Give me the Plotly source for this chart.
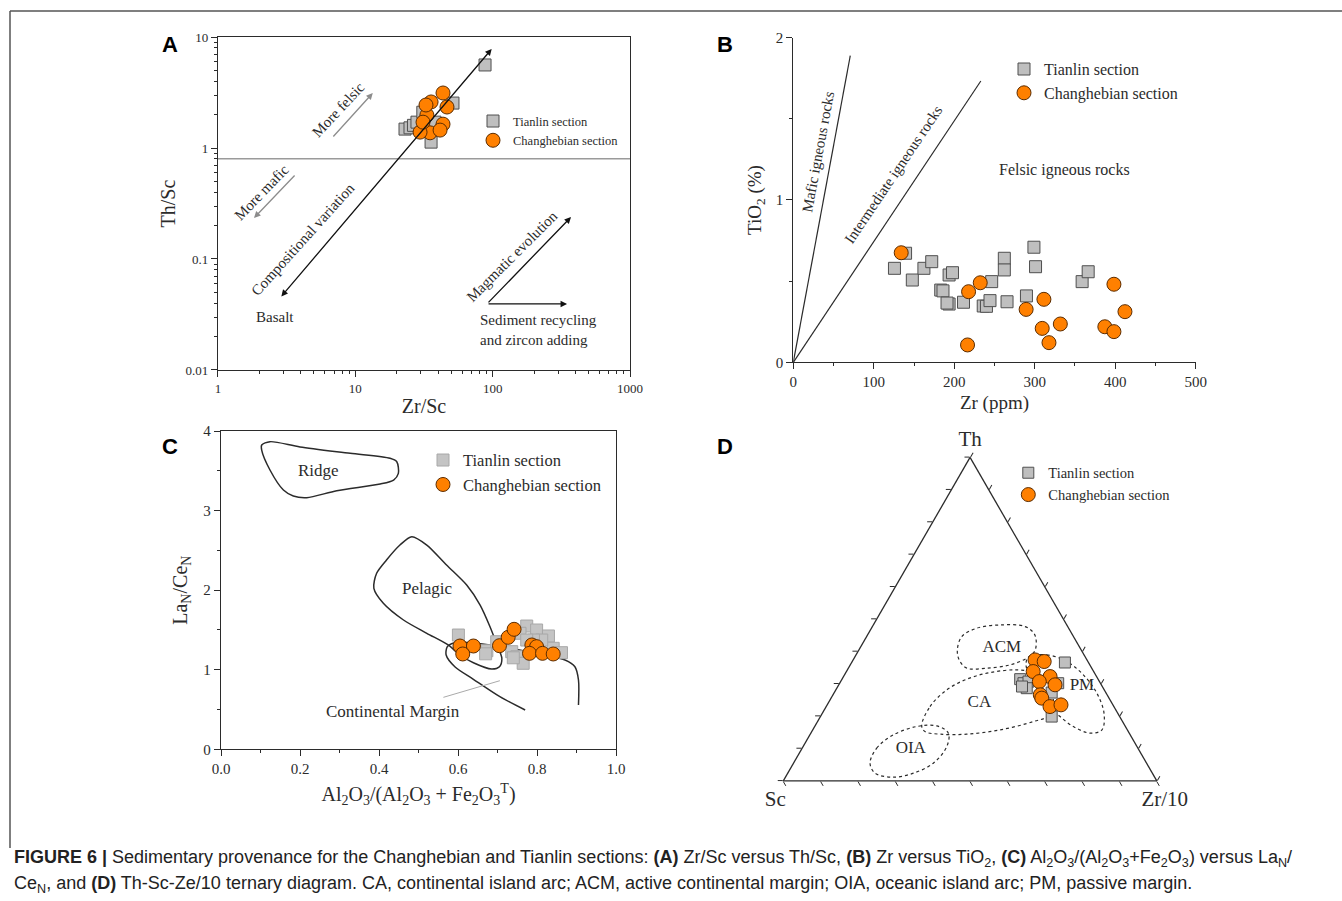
import math
import plotly.graph_objects as go

SERIF = "Liberation Serif"
SANS = "Liberation Sans"
INK = "#2b2b2b"
GREY_FILL = "#bfbfbf"
GREY_EDGE = "#4f4f4f"
ORANGE = "#ff8000"
ORANGE_EDGE = "#5c2c00"

# ---------------- Panel A: Zr/Sc vs Th/Sc ----------------
a_tianlin_zrsc = [23.0, 25.0, 26.5, 28.1, 31.0, 33.8, 35.6, 38.0, 51.4, 88.0]
a_tianlin_thsc = [1.48, 1.52, 1.60, 1.71, 2.10, 1.52, 1.13, 1.71, 2.54, 5.60]
a_chang_zrsc = [35.6, 43.5, 46.5, 33.2, 32.7, 43.5, 35.0, 29.6, 41.4, 31.1]
a_chang_thsc = [2.60, 3.13, 2.34, 1.98, 2.44, 1.64, 1.37, 1.39, 1.45, 1.71]
a_ref_zrsc = [1, 1000]
a_ref_thsc = [0.8, 0.8]

# ---------------- Panel B: Zr vs TiO2 ----------------
b_tianlin_zr = [139.5, 125.7, 147.9, 162.3, 172.0, 183.2, 186.0, 193.6, 197.8, 193.6,
                191.0, 211.5, 236.0, 240.0, 244.4, 246.5, 262.2, 262.2, 265.6, 289.7,
                299.0, 301.0, 358.9, 366.4]
b_tianlin_ti = [0.672, 0.579, 0.507, 0.579, 0.620, 0.445, 0.440, 0.538, 0.552, 0.359,
                0.365, 0.370, 0.347, 0.345, 0.380, 0.497, 0.641, 0.569, 0.373, 0.409,
                0.709, 0.589, 0.497, 0.558]
b_chang_zr = [134.1, 217.8, 232.3, 216.5, 289.3, 311.4, 309.3, 317.7, 331.8, 387.1,
              398.4, 398.4, 412.1]
b_chang_ti = [0.675, 0.435, 0.490, 0.107, 0.326, 0.388, 0.209, 0.121, 0.236, 0.219,
              0.189, 0.481, 0.312]
b_mafic_zr = [0, 70.8]
b_mafic_ti = [0, 1.889]
b_inter_zr = [0, 233.0]
b_inter_ti = [0, 1.733]

# ---------------- Panel C: Al2O3/(Al2O3+Fe2O3T) vs LaN/CeN ----------------
c_tianlin_al = [0.601, 0.673, 0.698, 0.774, 0.799, 0.829, 0.757, 0.736, 0.749, 0.765,
                0.841, 0.862, 0.812, 0.791, 0.774, 0.670, 0.740]
c_tianlin_la = [1.436, 1.239, 1.352, 1.549, 1.499, 1.424, 1.458, 1.227, 1.164, 1.081,
                1.269, 1.214, 1.373, 1.373, 1.373, 1.200, 1.150]
c_chang_al = [0.605, 0.639, 0.612, 0.705, 0.727, 0.742, 0.787, 0.799, 0.781, 0.814, 0.841]
c_chang_la = [1.298, 1.298, 1.198, 1.302, 1.407, 1.508, 1.311, 1.290, 1.206, 1.206, 1.198]

ridge_al = [0.293, 0.217, 0.183, 0.158, 0.124, 0.103, 0.103, 0.124, 0.200, 0.327,
            0.428, 0.445, 0.449, 0.437, 0.403, 0.293]
ridge_la = [3.250, 3.162, 3.183, 3.258, 3.510, 3.760, 3.824, 3.866, 3.800, 3.720,
            3.657, 3.614, 3.468, 3.384, 3.334, 3.250]
pelagic_al = [0.605, 0.575, 0.521, 0.462, 0.411, 0.387, 0.394, 0.419, 0.453, 0.483,
              0.521, 0.571, 0.622, 0.656, 0.681, 0.698, 0.711, 0.705, 0.685, 0.639, 0.605]
pelagic_la = [1.185, 1.311, 1.458, 1.625, 1.835, 2.023, 2.212, 2.379, 2.567, 2.672,
              2.567, 2.316, 2.065, 1.813, 1.541, 1.323, 1.143, 1.038, 1.009, 1.088, 1.185]
margin_al = [0.770, 0.706, 0.639, 0.592, 0.570, 0.573, 0.592, 0.647, 0.732, 0.816,
             0.871, 0.896, 0.905, 0.905]
margin_la = [0.494, 0.661, 0.880, 1.038, 1.185, 1.290, 1.340, 1.332, 1.269, 1.185,
             1.122, 1.038, 0.871, 0.557]
margin_leader_al = [0.563, 0.706]
margin_leader_la = [0.653, 0.862]

# ---------------- Panel D: Th - Sc - Zr/10 ternary ----------------
d_tianlin_th = [0.366, 0.3145, 0.302, 0.307, 0.2866, 0.302, 0.273, 0.1988, 0.2916]
d_tianlin_sc = [0.063, 0.2085, 0.206, 0.190, 0.205, 0.113, 0.145, 0.182, 0.215]
d_tianlin_zr = [0.571, 0.477, 0.492, 0.503, 0.5086, 0.585, 0.582, 0.619, 0.493]
d_chang_th = [0.374, 0.369, 0.338, 0.3225, 0.307, 0.297, 0.266, 0.2557, 0.2297, 0.235]
d_chang_sc = [0.139, 0.117, 0.162, 0.1245, 0.161, 0.124, 0.179, 0.180, 0.171, 0.139]
d_chang_zr = [0.487, 0.514, 0.500, 0.553, 0.532, 0.579, 0.555, 0.564, 0.599, 0.626]

acm_th = [0.405, 0.446, 0.472, 0.482, 0.477, 0.451, 0.405, 0.3825, 0.3587, 0.3485, 0.3485, 0.374]
acm_sc = [0.3315, 0.299, 0.246, 0.179, 0.114, 0.101, 0.123, 0.1525, 0.213, 0.2815, 0.3345, 0.342]
acm_zr = [0.2635, 0.2547, 0.282, 0.339, 0.409, 0.448, 0.472, 0.465, 0.428, 0.370, 0.317, 0.284]
pm_th = [0.3825, 0.3896, 0.369, 0.3278, 0.2712, 0.2093, 0.1577, 0.1475, 0.168, 0.1988,
         0.2297, 0.2712, 0.3225, 0.3587]
pm_sc = [0.1525, 0.0994, 0.0565, 0.0327, 0.025, 0.0367, 0.068, 0.1045, 0.1395, 0.1595,
         0.171, 0.177, 0.178, 0.1708]
pm_zr = [0.465, 0.511, 0.5745, 0.6395, 0.7038, 0.754, 0.774, 0.748, 0.6925, 0.6417,
         0.5994, 0.552, 0.4995, 0.4705]
ca_th = [0.170, 0.2297, 0.2814, 0.3145, 0.3349, 0.3432, 0.333, 0.302, 0.2505, 0.2041,
         0.1834, 0.1577, 0.1444, 0.1444, 0.1524]
ca_sc = [0.5445, 0.4923, 0.4216, 0.3515, 0.279, 0.2034, 0.155, 0.1393, 0.1518, 0.1837,
         0.2386, 0.3407, 0.4367, 0.5082, 0.5444]
ca_zr = [0.2855, 0.278, 0.297, 0.334, 0.386, 0.4534, 0.512, 0.5587, 0.5977, 0.6122,
         0.578, 0.5016, 0.4189, 0.3474, 0.3032]
oia_th = [0.0547, 0.1011, 0.1422, 0.168, 0.170, 0.1475, 0.1061, 0.0547, 0.0238, 0.0114, 0.0238]
oia_sc = [0.7404, 0.6994, 0.6344, 0.5588, 0.5043, 0.4843, 0.5093, 0.5709, 0.6398, 0.6996, 0.7424]
oia_zr = [0.2049, 0.1995, 0.2234, 0.2732, 0.3257, 0.3682, 0.3846, 0.3744, 0.3364, 0.289, 0.2338]

field_names = ["ACM", "PM", "CA", "OIA"]
field_label_th = [0.412, 0.2947, 0.242, 0.099]
field_label_sc = [0.209, 0.053, 0.354, 0.609]
field_label_zr = [0.379, 0.652, 0.404, 0.2917]


def closed(seq):
    return list(seq) + [seq[0]]


def lg(v):
    return math.log10(v)


square_style = dict(symbol="square", size=12, color=GREY_FILL, line=dict(color=GREY_EDGE, width=1))
circle_style = dict(symbol="circle", size=14, color=ORANGE, line=dict(color=ORANGE_EDGE, width=1))

fig = go.Figure()

# ---- A ----
fig.add_trace(go.Scatter(x=a_ref_zrsc, y=a_ref_thsc, mode="lines", xaxis="x", yaxis="y",
                         line=dict(color="#9a9a9a", width=1.5), showlegend=False))
fig.add_trace(go.Scatter(x=a_tianlin_zrsc, y=a_tianlin_thsc, mode="markers", xaxis="x", yaxis="y",
                         name="Tianlin section", marker=square_style, legend="legend"))
fig.add_trace(go.Scatter(x=a_chang_zrsc, y=a_chang_thsc, mode="markers", xaxis="x", yaxis="y",
                         name="Changhebian section", marker=circle_style, legend="legend"))

# ---- B ----
for xs, ys in ((b_mafic_zr, b_mafic_ti), (b_inter_zr, b_inter_ti)):
    fig.add_trace(go.Scatter(x=xs, y=ys, mode="lines", xaxis="x2", yaxis="y2",
                             line=dict(color=INK, width=1.2), showlegend=False))
fig.add_trace(go.Scatter(x=b_tianlin_zr, y=b_tianlin_ti, mode="markers", xaxis="x2", yaxis="y2",
                         name="Tianlin section", marker=dict(square_style, size=12), legend="legend2"))
fig.add_trace(go.Scatter(x=b_chang_zr, y=b_chang_ti, mode="markers", xaxis="x2", yaxis="y2",
                         name="Changhebian section", marker=dict(circle_style, size=14), legend="legend2"))

# ---- C ----
for xs, ys in ((ridge_al, ridge_la), (pelagic_al, pelagic_la), (margin_al, margin_la)):
    fig.add_trace(go.Scatter(x=xs, y=ys, mode="lines", xaxis="x3", yaxis="y3",
                             line=dict(color=INK, width=1.5, shape="spline", smoothing=0.8),
                             showlegend=False))
fig.add_trace(go.Scatter(x=margin_leader_al, y=margin_leader_la, mode="lines", xaxis="x3", yaxis="y3",
                         line=dict(color="#aaaaaa", width=1), showlegend=False))
fig.add_trace(go.Scatter(x=c_tianlin_al, y=c_tianlin_la, mode="markers", xaxis="x3", yaxis="y3",
                         name="Tianlin section",
                         marker=dict(symbol="square", size=12, color="#c4c4c4",
                                     line=dict(color="#a8a8a8", width=1)),
                         legend="legend3"))
fig.add_trace(go.Scatter(x=c_chang_al, y=c_chang_la, mode="markers", xaxis="x3", yaxis="y3",
                         name="Changhebian section", marker=dict(circle_style, size=14), legend="legend3"))

# ---- D ----
for th, sc, zr in ((acm_th, acm_sc, acm_zr), (pm_th, pm_sc, pm_zr),
                   (ca_th, ca_sc, ca_zr), (oia_th, oia_sc, oia_zr)):
    fig.add_trace(go.Scatterternary(a=closed(th), b=closed(sc), c=closed(zr), mode="lines",
                                    line=dict(color=INK, width=1.2, dash="dot", shape="spline",
                                              smoothing=1),
                                    showlegend=False))
fig.add_trace(go.Scatterternary(a=field_label_th, b=field_label_sc, c=field_label_zr, mode="text",
                                text=field_names, textfont=dict(family=SERIF, size=17, color=INK),
                                showlegend=False))
fig.add_trace(go.Scatterternary(a=d_tianlin_th, b=d_tianlin_sc, c=d_tianlin_zr, mode="markers",
                                name="Tianlin section", marker=dict(square_style, size=11),
                                legend="legend4"))
fig.add_trace(go.Scatterternary(a=d_chang_th, b=d_chang_sc, c=d_chang_zr, mode="markers",
                                name="Changhebian section", marker=dict(circle_style, size=14),
                                legend="legend4"))


def axis(**kw):
    base = dict(showline=True, linecolor=INK, linewidth=1.3, ticks="outside", tickcolor=INK,
                ticklen=6, tickwidth=1.2, showgrid=False, zeroline=False, automargin=False,
                tickfont=dict(family=SERIF, size=15, color=INK))
    base.update(kw)
    return base


minor_log = dict(ticks="outside", ticklen=3, tickcolor=INK, showgrid=False)
x_minor = [k * 10 ** d for d in range(0, 3) for k in range(2, 10)]
y_minor = [k * 10.0 ** d for d in range(-2, 1) for k in range(2, 10)]


def legend_box(x, y, size):
    return dict(x=x, y=y, xanchor="left", yanchor="top", bgcolor="rgba(0,0,0,0)",
                font=dict(family=SERIF, size=size, color=INK), tracegroupgap=0)


ann = []
txt = dict(family=SERIF, color=INK)


def note(text, x, y, ref, size=15, angle=0, **kw):
    d = dict(text=text, x=x, y=y, xref=ref[0], yref=ref[1], showarrow=False,
             textangle=angle, font=dict(txt, size=size))
    d.update(kw)
    ann.append(d)


def arrow(x0, y0, x1, y1, ref, color, both=False):
    ann.append(dict(text="", x=x1, y=y1, ax=x0, ay=y0, xref=ref[0], yref=ref[1],
                    axref=ref[0], ayref=ref[1], showarrow=True, arrowhead=2, arrowsize=1,
                    arrowwidth=1.3, arrowcolor=color, font=dict(txt, size=12),
                    arrowside="end+start" if both else "end", standoff=0, startstandoff=0))


A = ("x", "y")
note("More felsic", lg(7.48), lg(2.2), A, size=15, angle=-47)
arrow(lg(6.76), lg(1.23), lg(13.4), lg(3.13), A, "#8c8c8c")
note("More mafic", lg(2.09), lg(0.402), A, size=15, angle=-46)
arrow(lg(3.70), lg(0.583), lg(1.83), lg(0.234), A, "#8c8c8c")
arrow(lg(2.83), lg(0.0446), lg(98.4), lg(7.8), A, "#111111", both=True)
note("Compositional variation", lg(4.18), lg(0.151), A, size=15, angle=-48)
note("Basalt", lg(2.60), lg(0.0302), A, size=15)
note("Magmatic evolution", lg(139), lg(0.107), A, size=15, angle=-45)
arrow(lg(91), lg(0.0394), lg(372), lg(0.239), A, "#111111")
arrow(lg(91), lg(0.0394), lg(348), lg(0.0394), A, "#111111")
note("Sediment recycling<br>and zircon adding", lg(78.6), lg(0.0227), A, size=15,
     xanchor="left", align="left")

B = ("x2", "y2")
note("Mafic igneous rocks", 30.8, 1.296, B, size=15, angle=-79.5)
note("Intermediate igneous rocks", 124.9, 1.16, B, size=15, angle=-56)
note("Felsic igneous rocks", 336.6, 1.184, B, size=16)

C = ("x3", "y3")
note("Ridge", 0.246, 3.50, C, size=17)
note("Pelagic", 0.521, 2.023, C, size=17)
note("Continental Margin", 0.436, 0.473, C, size=17)

# panel letters
for letter, px, py in (("A", 170, 44), ("B", 725, 44), ("C", 170, 447), ("D", 725, 447)):
    ann.append(dict(text="<b>%s</b>" % letter, x=px / 1342, y=1 - py / 901, xref="paper",
                    yref="paper", showarrow=False, xanchor="center", yanchor="middle",
                    font=dict(family=SANS, size=22, color="#000")))

caption1 = ("<b>FIGURE 6 |</b> Sedimentary provenance for the Changhebian and Tianlin sections: "
            "<b>(A)</b> Zr/Sc versus Th/Sc, <b>(B)</b> Zr versus TiO<sub>2</sub>, <b>(C)</b> "
            "Al<sub>2</sub>O<sub>3</sub>/(Al<sub>2</sub>O<sub>3</sub>+Fe<sub>2</sub>O<sub>3</sub>) "
            "versus La<sub>N</sub>/")
caption2 = ("Ce<sub>N</sub>, and <b>(D)</b> Th-Sc-Ze/10 ternary diagram. CA, continental island arc; "
            "ACM, active continental margin; OIA, oceanic island arc; PM, passive margin.")
for text, py in ((caption1, 858), (caption2, 884)):
    ann.append(dict(text=text, x=12 / 1342, y=1 - py / 901, xref="paper", yref="paper",
                    showarrow=False, xanchor="left", yanchor="middle", align="left",
                    font=dict(family=SANS, size=18, color="#222")))

fig.update_layout(
    width=1342, height=901, autosize=False,
    margin=dict(l=0, r=0, t=0, b=0),
    paper_bgcolor="white", plot_bgcolor="white",
    xaxis=axis(domain=[0.16244, 0.46945], anchor="y", type="log", range=[0, 3], mirror=True,
               tickvals=[1, 10, 100, 1000], ticktext=["1", "10", "100", "1000"],
               tickfont=dict(family=SERIF, size=13, color=INK),
               minor=dict(minor_log, tickvals=x_minor),
               title=dict(text="Zr/Sc", font=dict(family=SERIF, size=20, color=INK), standoff=4)),
    yaxis=axis(domain=[0.58935, 0.95893], anchor="x", type="log", range=[-2, 1], mirror=True,
               tickvals=[0.01, 0.1, 1, 10], ticktext=["0.01", "0.1", "1", "10"],
               tickfont=dict(family=SERIF, size=13, color=INK),
               minor=dict(minor_log, tickvals=y_minor),
               title=dict(text="Th/Sc", font=dict(family=SERIF, size=20, color=INK), standoff=4)),
    xaxis2=axis(domain=[0.59113, 0.89098], anchor="y2", range=[0, 500], dtick=100,
                minor=dict(ticks="outside", ticklen=3, dtick=50, tickcolor=INK),
                title=dict(text="Zr (ppm)", font=dict(family=SERIF, size=19, color=INK), standoff=6)),
    yaxis2=axis(domain=[0.59789, 0.95816], anchor="x2", range=[0, 2], dtick=1,
                minor=dict(ticks="outside", ticklen=3, dtick=0.5, tickcolor=INK),
                title=dict(text="TiO<sub>2</sub> (%)", font=dict(family=SERIF, size=19, color=INK),
                           standoff=8)),
    xaxis3=axis(domain=[0.16468, 0.45902], anchor="y3", range=[0, 1], dtick=0.2, tickformat=".1f",
                mirror=True, minor=dict(ticks="outside", ticklen=3, dtick=0.1, tickcolor=INK),
                title=dict(text="Al<sub>2</sub>O<sub>3</sub>/(Al<sub>2</sub>O<sub>3</sub> + "
                                "Fe<sub>2</sub>O<sub>3</sub><sup>T</sup>)",
                           font=dict(family=SERIF, size=20, color=INK), standoff=10)),
    yaxis3=axis(domain=[0.16837, 0.52164], anchor="x3", range=[0, 4], dtick=1, mirror=True,
                minor=dict(ticks="outside", ticklen=3, dtick=0.5, tickcolor=INK),
                title=dict(text="La<sub>N</sub>/Ce<sub>N</sub>",
                           font=dict(family=SERIF, size=20, color=INK), standoff=10)),
    ternary=dict(
        domain=dict(x=[0.58368, 0.86200], y=[0.13319, 0.49245]),
        bgcolor="white", sum=1,
        aaxis=dict(title=dict(text="Th", font=dict(family=SERIF, size=21, color=INK)),
                   showticklabels=False, ticks="outside", ticklen=5, dtick=0.1, showgrid=False,
                   linecolor=INK, linewidth=1.3, tickcolor=INK),
        baxis=dict(title=dict(text="Sc", font=dict(family=SERIF, size=21, color=INK)),
                   showticklabels=False, ticks="outside", ticklen=5, dtick=0.1, showgrid=False,
                   linecolor=INK, linewidth=1.3, tickcolor=INK),
        caxis=dict(title=dict(text="Zr/10", font=dict(family=SERIF, size=21, color=INK)),
                   showticklabels=False, ticks="outside", ticklen=5, dtick=0.1, showgrid=False,
                   linecolor=INK, linewidth=1.3, tickcolor=INK),
    ),
    legend=legend_box(473 / 1342, 1 - 106.4 / 901, 12.5),
    legend2=legend_box(1004 / 1342, 1 - 52.1 / 901, 16),
    legend3=legend_box(423 / 1342, 1 - 442.8 / 901, 16.5),
    legend4=legend_box(1008.3 / 1342, 1 - 456.8 / 901, 14.5),
    annotations=ann,
    shapes=[
        dict(type="line", xref="paper", yref="paper", x0=10 / 1342, x1=1, y0=1 - 11 / 901,
             y1=1 - 11 / 901, line=dict(color="#555", width=1.5)),
        dict(type="line", xref="paper", yref="paper", x0=10 / 1342, x1=10 / 1342, y0=1 - 11 / 901,
             y1=1 - 848 / 901, line=dict(color="#555", width=1.5)),
    ],
)

fig.write_html("out.html")
